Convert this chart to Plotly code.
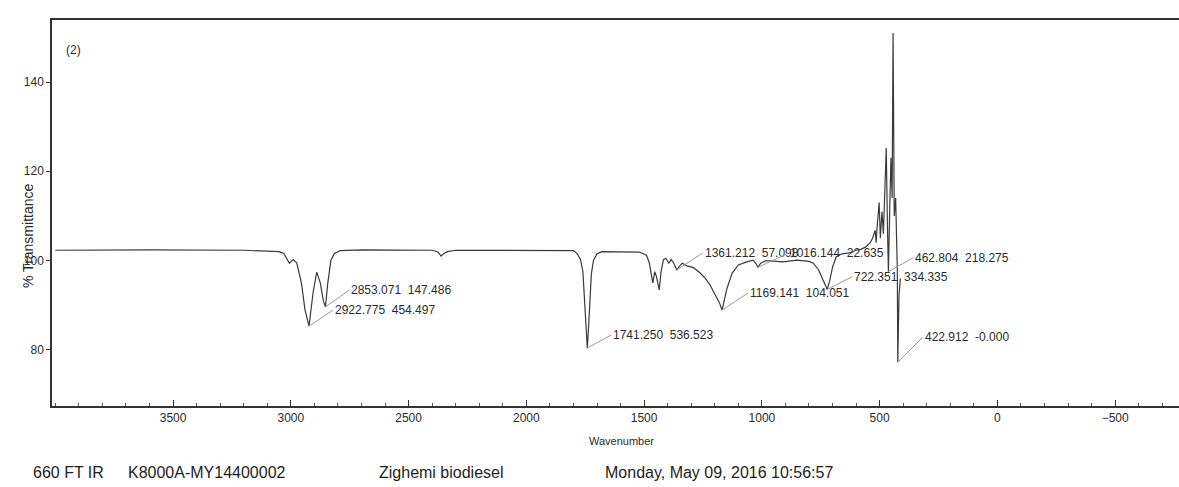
import plotly.graph_objects as go

# FT-IR spectrum of the biodiesel sample (wavenumber in cm-1, % transmittance)
wavenumber = [
    4000, 3600, 3200, 3100, 3050, 3030, 3006, 2990, 2975, 2955, 2940, 2922.775,
    2905, 2890, 2875, 2862, 2853.071, 2843, 2830, 2815, 2790, 2700, 2500, 2400,
    2375, 2362, 2350, 2335, 2300, 2000, 1850, 1800, 1785, 1770, 1760, 1752, 1745,
    1741.250, 1737, 1731, 1724, 1715, 1700, 1680, 1600, 1520, 1490, 1478, 1470,
    1463, 1455, 1448, 1436, 1428, 1418, 1408, 1395, 1385, 1375, 1361.212, 1345,
    1338, 1318, 1290, 1262, 1240, 1220, 1196, 1180, 1169.141, 1160, 1148, 1126,
    1100, 1064, 1038, 1025, 1016.144, 1005, 985, 965, 910, 850, 800, 782, 760,
    740, 722.351, 712, 700, 685, 660, 620, 600, 580, 560, 540, 530, 519, 515,
    510, 502, 497, 490, 484, 478, 472, 467, 462.804, 457, 452, 447, 443, 438,
    432, 425, 422.912, 418, 412,
]
transmittance = [
    102.3, 102.4, 102.3, 102.2, 102.0, 101.6, 99.4, 100.2, 99.5, 95.0, 89.0, 85.3,
    93.0, 97.4, 95.0, 91.0, 89.6, 95.0, 100.0, 101.6, 102.2, 102.4, 102.4, 102.3,
    101.9, 101.0, 101.6, 102.0, 102.3, 102.3, 102.3, 102.2, 101.6, 100.2, 97.5, 91.0, 84.0,
    80.4, 84.0, 91.0, 97.0, 100.0, 101.5, 102.0, 102.0, 101.9, 101.2, 99.5, 97.0,
    95.0, 97.5, 96.5, 93.4, 97.5, 100.2, 100.5, 99.4, 100.2, 99.5, 97.9, 99.0,
    99.4, 98.8, 98.4, 97.2, 96.0, 94.5, 92.3, 90.5, 88.9, 91.2, 93.8, 97.2,
    99.0, 99.7, 100.1, 99.3, 98.5, 99.4, 99.9, 99.9, 99.7, 100.1, 99.8, 99.4, 98.0,
    95.6, 93.5, 95.5, 98.5, 100.8, 101.5, 101.8, 102.3, 102.5, 103.0, 104.0, 105.0, 106.8, 104.0,
    108.0, 113.0, 105.0, 111.0, 106.0, 118.0, 125.2, 108.0, 97.5, 112.0, 123.0, 114.0, 151.0, 110.0,
    114.0, 98.0, 77.2, 92.0, 96.0,
]

# Peak table: picked wavenumber and the value printed beside it
peak_wavenumber = [2922.775, 2853.071, 1741.250, 1361.212, 1169.141, 1016.144, 722.351, 462.804, 422.912]
peak_value = ["454.497", "147.486", "536.523", "57.098", "104.051", "22.635", "334.335", "218.275", "-0.000"]

x_tick_values = [3500, 3000, 2500, 2000, 1500, 1000, 500, 0, -500]
y_tick_values = [80, 100, 120, 140]

footer_texts = ["660 FT IR", "K8000A-MY14400002", "Zighemi biodiesel", "Monday, May 09, 2016 10:56:57"]

FONT = "Liberation Sans Narrow, Liberation Sans, Arial"
INK = "#2b2b2b"
PLOT_LEFT = 52

fig = go.Figure()
fig.add_trace(go.Scatter(
    x=wavenumber, y=transmittance, mode="lines",
    line=dict(color="#3a3a3a", width=1.2), showlegend=False, hoverinfo="skip",
))

# label offsets in pixels (text left edge relative to the picked point)
label_offsets = [(24, -16), (24, -17), (24, -13), (26, -17), (26, -17),
                 (30, -14), (25, -13), (25, -14), (25, -25)]
for wn, val, (ox, oy) in zip(peak_wavenumber, peak_value, label_offsets):
    t = transmittance[wavenumber.index(wn)]
    fig.add_annotation(
        x=wn, y=t, ax=ox, ay=oy, axref="pixel", ayref="pixel",
        text=f"{wn:.3f}  {val}", showarrow=True, arrowhead=0, arrowwidth=1,
        arrowcolor="#9a9a9a", xanchor="left", yanchor="middle",
        font=dict(family=FONT, size=12, color=INK),
    )

fig.add_annotation(x=0, y=1, xref="paper", yref="paper", xshift=12, yshift=-30,
                   text="(2)", showarrow=False, xanchor="left", yanchor="middle",
                   font=dict(family=FONT, size=12, color=INK))
fig.add_annotation(x=0, y=105.5, xref="paper", yref="y", xshift=-34,
                   text="% Transmittance", textangle=-90, showarrow=False,
                   font=dict(family=FONT, size=14, color=INK))
fig.add_annotation(x=1594, y=0, xref="x", yref="paper", yshift=-35,
                   text="Wavenumber", showarrow=False, yanchor="middle",
                   font=dict(family=FONT, size=11, color=INK))

footer_left_px = [31, 126, 377, 603]
for text, px in zip(footer_texts, footer_left_px):
    fig.add_annotation(x=0, y=0, xref="paper", yref="paper",
                       xshift=px - PLOT_LEFT, yshift=-66, text=text, showarrow=False,
                       xanchor="left", yanchor="middle",
                       font=dict(family=FONT, size=16, color="#1e1e1e"))

fig.update_layout(
    width=1179, height=487,
    margin=dict(l=PLOT_LEFT, r=0, t=20, b=81),
    paper_bgcolor="white", plot_bgcolor="white",
    xaxis=dict(
        range=[4014, -771], tickvals=x_tick_values, ticks="inside", ticklen=6,
        tickwidth=1, tickcolor="#333", showline=True, linecolor="#333", linewidth=1.5,
        mirror=True, showgrid=False, zeroline=False,
        minor=dict(dtick=100, ticks="inside", ticklen=3, tickcolor="#555", showgrid=False),
        tickfont=dict(family=FONT, size=12, color=INK),
    ),
    yaxis=dict(
        range=[67.4, 153.9], tickvals=y_tick_values, ticks="outside", ticklen=4,
        tickcolor="#333", showline=True, linecolor="#333", linewidth=1.5,
        showgrid=False, zeroline=False,
        tickfont=dict(family=FONT, size=12, color=INK),
    ),
)

fig.write_html("out.html")
